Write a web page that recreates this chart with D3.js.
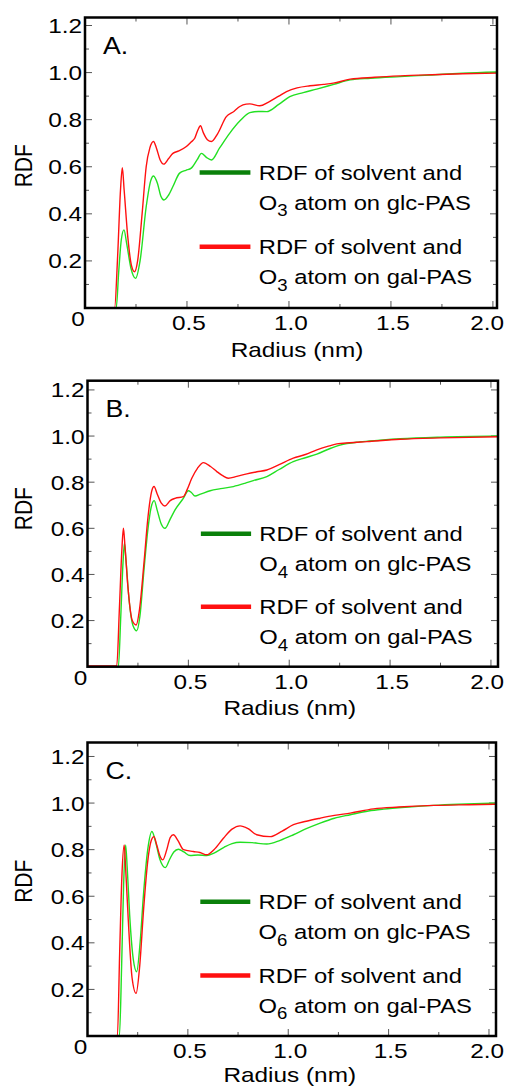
<!DOCTYPE html>
<html>
<head>
<meta charset="utf-8">
<script src="https://d3js.org/d3.v7.min.js"></script>
<style>
  body { margin: 0; background: #fff; }
  text { font-family: "Liberation Sans", Arial, sans-serif; fill: #000; }
</style>
</head>
<body>
<svg id="chart" width="508" height="1088"></svg>
<script>
// ---- data: [radius (nm), RDF] ----
const glcO3 = [[0,0],[0.153,0],[0.165,0.15],[0.178,0.29],[0.191,0.332],[0.205,0.27],[0.225,0.17],[0.248,0.126],[0.27,0.2],[0.30,0.43],[0.322,0.54],[0.336,0.561],[0.355,0.53],[0.372,0.475],[0.387,0.459],[0.41,0.48],[0.431,0.516],[0.464,0.573],[0.495,0.585],[0.521,0.594],[0.55,0.63],[0.571,0.657],[0.595,0.64],[0.62,0.629],[0.66,0.68],[0.71,0.743],[0.76,0.795],[0.808,0.83],[0.85,0.835],[0.89,0.834],[0.95,0.865],[1.004,0.898],[1.07,0.915],[1.136,0.93],[1.22,0.95],[1.3,0.969],[1.4,0.976],[1.545,0.983],[1.7,0.99],[1.85,0.997],[2.04,1.003]];
const galO3 = [[0,0],[0.145,0],[0.16,0.22],[0.174,0.5],[0.183,0.596],[0.192,0.5],[0.21,0.3],[0.228,0.18],[0.243,0.154],[0.258,0.2],[0.28,0.4],[0.30,0.6],[0.318,0.68],[0.336,0.707],[0.35,0.68],[0.368,0.63],[0.386,0.611],[0.41,0.635],[0.431,0.657],[0.46,0.667],[0.497,0.686],[0.52,0.705],[0.538,0.721],[0.553,0.755],[0.566,0.774],[0.58,0.745],[0.6,0.715],[0.62,0.707],[0.65,0.74],[0.693,0.813],[0.73,0.835],[0.759,0.856],[0.79,0.866],[0.808,0.867],[0.857,0.859],[0.9,0.875],[0.95,0.9],[0.988,0.919],[1.04,0.935],[1.103,0.944],[1.17,0.95],[1.217,0.955],[1.3,0.972],[1.42,0.98],[1.545,0.986],[1.7,0.991],[1.85,0.995],[2.04,0.998]];
const glcO4 = [[0,0],[0.153,0],[0.165,0.22],[0.176,0.45],[0.183,0.535],[0.19,0.47],[0.205,0.3],[0.225,0.18],[0.244,0.156],[0.26,0.22],[0.28,0.42],[0.3,0.6],[0.318,0.7],[0.331,0.72],[0.345,0.68],[0.365,0.62],[0.384,0.6],[0.41,0.64],[0.434,0.68],[0.475,0.73],[0.5,0.763],[0.515,0.755],[0.533,0.74],[0.56,0.748],[0.608,0.763],[0.66,0.772],[0.723,0.781],[0.78,0.795],[0.822,0.807],[0.889,0.824],[0.95,0.855],[1.02,0.889],[1.08,0.906],[1.137,0.922],[1.2,0.945],[1.252,0.961],[1.35,0.975],[1.45,0.982],[1.55,0.988],[1.75,0.995],[2.04,1.0]];
const galO4 = [[0,0.003],[0.145,0.003],[0.158,0.25],[0.17,0.5],[0.178,0.6],[0.186,0.52],[0.2,0.35],[0.222,0.2],[0.241,0.181],[0.258,0.25],[0.28,0.45],[0.3,0.65],[0.318,0.76],[0.33,0.781],[0.345,0.75],[0.365,0.71],[0.384,0.697],[0.41,0.72],[0.434,0.73],[0.475,0.737],[0.495,0.77],[0.517,0.817],[0.545,0.86],[0.575,0.885],[0.61,0.868],[0.641,0.846],[0.67,0.828],[0.698,0.817],[0.74,0.825],[0.79,0.836],[0.84,0.845],[0.889,0.853],[0.95,0.876],[1.02,0.904],[1.08,0.92],[1.137,0.94],[1.19,0.955],[1.236,0.966],[1.3,0.971],[1.385,0.976],[1.55,0.986],[1.75,0.992],[2.04,0.997]];
const glcO6 = [[0,0],[0.159,0],[0.17,0.3],[0.18,0.65],[0.19,0.82],[0.198,0.72],[0.21,0.52],[0.228,0.33],[0.245,0.276],[0.262,0.4],[0.28,0.62],[0.3,0.8],[0.321,0.878],[0.34,0.83],[0.36,0.76],[0.388,0.723],[0.41,0.76],[0.43,0.79],[0.453,0.802],[0.48,0.79],[0.511,0.775],[0.55,0.777],[0.594,0.775],[0.63,0.785],[0.68,0.81],[0.72,0.826],[0.76,0.832],[0.82,0.83],[0.893,0.824],[0.96,0.84],[1.026,0.864],[1.09,0.89],[1.159,0.914],[1.23,0.935],[1.309,0.95],[1.4,0.966],[1.475,0.974],[1.6,0.983],[1.724,0.99],[1.85,0.995],[2.04,1.0]];
const galO6 = [[0,0],[0.149,0],[0.16,0.35],[0.172,0.7],[0.183,0.82],[0.19,0.72],[0.203,0.5],[0.222,0.25],[0.242,0.183],[0.26,0.3],[0.28,0.55],[0.3,0.75],[0.318,0.84],[0.331,0.856],[0.345,0.82],[0.36,0.775],[0.375,0.756],[0.395,0.8],[0.412,0.852],[0.428,0.864],[0.45,0.84],[0.478,0.8],[0.527,0.792],[0.56,0.788],[0.594,0.778],[0.63,0.8],[0.677,0.849],[0.72,0.888],[0.76,0.902],[0.8,0.89],[0.843,0.864],[0.91,0.856],[0.97,0.88],[1.026,0.907],[1.09,0.922],[1.159,0.935],[1.23,0.947],[1.309,0.957],[1.425,0.975],[1.55,0.983],[1.724,0.99],[1.9,0.993],[2.04,0.995]];

const panelNames = ["A.", "B.", "C."];
const atomSubs = ["3", "4", "6"];
const xTickLabels = ["0.5", "1.0", "1.5", "2.0"];
const yTickLabels = ["0.2", "0.4", "0.6", "0.8", "1.0", "1.2"];

// layout of each panel box (pixels) and the visible axis extent
const layout = [
  {left: 85,   right: 497, top: 17.5,  bottom: 308,  xMax: 2.02,  yMax: 1.234, rdfDy: 3,   radDx: 6,  radDy: 49},
  {left: 87.5, right: 498, top: 380.7, bottom: 666.7, xMax: 2.035, yMax: 1.24, rdfDy: -15, radDx: -3, radDy: 48},
  {left: 87.5, right: 496, top: 742.5, bottom: 1036, xMax: 2.035, yMax: 1.26, rdfDy: -8,  radDx: -2, radDy: 46}
];
const series = [[glcO3, galO3], [glcO4, galO4], [glcO6, galO6]];

const SX = 1.16; // the figure is stretched horizontally
const svg = d3.select("#chart");

function label(parent, x, y, str, size, anchor, rot) {
  const g = parent.append("g")
    .attr("transform", `translate(${x},${y}) scale(${SX},1)` + (rot ? ` rotate(${rot})` : ""));
  return g.append("text")
    .attr("font-size", size)
    .attr("text-anchor", anchor || "start")
    .text(str);
}

layout.forEach((L, i) => {
  const x = d3.scaleLinear().domain([0, L.xMax]).range([L.left, L.right]);
  const y = d3.scaleLinear().domain([0, L.yMax]).range([L.bottom, L.top]);
  const g = svg.append("g");

  g.append("clipPath").attr("id", "clip" + i)
    .append("rect")
    .attr("x", L.left).attr("y", L.top)
    .attr("width", L.right - L.left).attr("height", L.bottom - L.top);

  // ticks (inside, mirrored)
  const yMinor = d3.range(0.1, 1.21, 0.1);
  const xMinor = d3.range(0.25, 2.01, 0.25);
  const tickCol = "#555";
  yMinor.forEach((v, k) => {
    const len = (k % 2 === 1) ? 7 : 4;
    g.append("line").attr("x1", L.left).attr("x2", L.left + len)
      .attr("y1", y(v)).attr("y2", y(v)).attr("stroke", tickCol).attr("stroke-width", 1);
    g.append("line").attr("x1", L.right).attr("x2", L.right - len)
      .attr("y1", y(v)).attr("y2", y(v)).attr("stroke", tickCol).attr("stroke-width", 1);
  });
  xMinor.forEach((v, k) => {
    const len = (k % 2 === 1) ? 7 : 4;
    g.append("line").attr("x1", x(v)).attr("x2", x(v))
      .attr("y1", L.bottom).attr("y2", L.bottom - len).attr("stroke", tickCol).attr("stroke-width", 1);
    g.append("line").attr("x1", x(v)).attr("x2", x(v))
      .attr("y1", L.top).attr("y2", L.top + len).attr("stroke", tickCol).attr("stroke-width", 1);
  });

  // curves
  const line = d3.line().x(d => x(d[0])).y(d => y(d[1])).curve(d3.curveMonotoneX);
  const cols = ["#22e022", "#ff1010"];
  series[i].forEach((s, k) => {
    g.append("path").datum(s)
      .attr("clip-path", `url(#clip${i})`)
      .attr("d", line)
      .attr("fill", "none")
      .attr("stroke", cols[k])
      .attr("stroke-width", 1.4);
  });

  // frame
  g.append("rect")
    .attr("x", L.left).attr("y", L.top)
    .attr("width", L.right - L.left).attr("height", L.bottom - L.top)
    .attr("fill", "none").attr("stroke", "#000").attr("stroke-width", 2.5);

  // tick labels
  yTickLabels.forEach(t => label(g, L.left - 3, y(+t) + 7.5, t, 21, "end"));
  label(g, L.left - 7, L.bottom + 18, "0", 21, "middle");
  xTickLabels.forEach((t, k) => {
    const last = k === xTickLabels.length - 1;
    label(g, last ? 504 : x(+t) + 2, L.bottom + 22, t, 21, last ? "end" : "middle");
  });

  // axis titles
  label(g, (L.left + L.right) / 2 + L.radDx, L.bottom + L.radDy, "Radius (nm)", 21, "middle");
  label(g, 31.5, (L.top + L.bottom) / 2 + L.rdfDy, "RDF", 21, "middle", -90);

  // panel letter
  label(g, L.left + 18, L.top + 36, panelNames[i], 23, "start");

  // legend
  const legCols = ["#0a800a", "#ff1010"];
  const legY = [0.576, 0.26];
  const legNames = ["glc-PAS", "gal-PAS"];
  legY.forEach((v, k) => {
    const yy = y(v);
    g.append("line")
      .attr("x1", x(0.562)).attr("x2", x(0.811))
      .attr("y1", yy).attr("y2", yy)
      .attr("stroke", legCols[k]).attr("stroke-width", 4.5);
    const tx = x(0.852);
    label(g, tx, yy + 7.5, "RDF of solvent and", 20.5, "start");
    const t2 = label(g, tx, yy + 37.5, "O", 20.5, "start");
    t2.append("tspan").attr("font-size", 16).attr("dy", 6.5).text(atomSubs[i]);
    t2.append("tspan").attr("dy", -6.5).text(" atom on " + legNames[k]);
  });
});
</script>
</body>
</html>
